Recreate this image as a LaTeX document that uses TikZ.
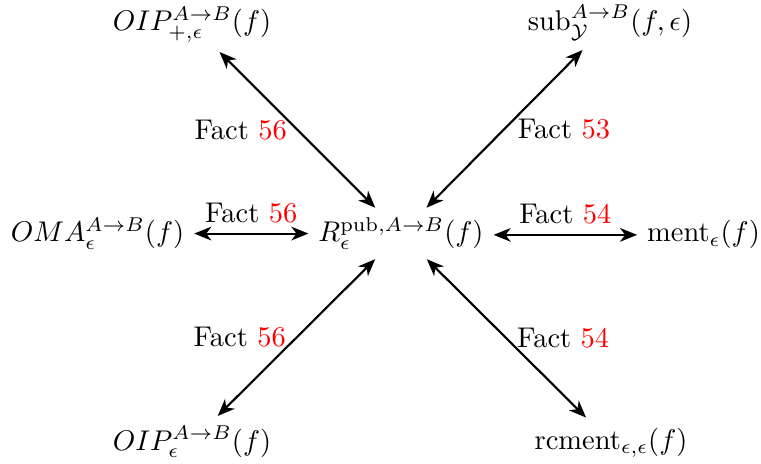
\documentclass[tikz,border=0pt]{standalone}
\usepackage{amsmath,amssymb}
\usetikzlibrary{arrows.meta}
\begin{document}
\begin{tikzpicture}[x=0.3509pt,y=-0.3509pt,
  obj/.style={anchor=base,inner sep=3.33pt},
  conn/.style={{Stealth[length=6pt,width=4.8pt,inset=1.8pt]}-{Stealth[length=6pt,width=4.8pt,inset=1.8pt]},line width=0.75pt},
  lab/.style={inner sep=3.33pt}]
\useasboundingbox (0,0) rectangle (761,464);
\node[obj] (oipp) at (192,31) {$OIP^{A\to B}_{+,\epsilon}(f)$};
\node[obj] (sub) at (610,31) {$\mathrm{sub}^{A\to B}_{\mathcal{Y}}(f,\epsilon)$};
\node[obj] (oma) at (97.5,242) {$OMA^{A\to B}_{\epsilon}(f)$};
\node[obj] (r) at (401,242) {$R^{\mathrm{pub},A\to B}_{\epsilon}(f)$};
\node[obj] (ment) at (703.5,242) {$\mathrm{ment}_{\epsilon}(f)$};
\node[obj] (oip) at (192,450) {$OIP^{A\to B}_{\epsilon}(f)$};
\node[obj] (rc) at (611,449) {$\mathrm{rcment}_{\epsilon,\epsilon}(f)$};
\draw[conn] (oipp) -- node[lab,midway,left] {Fact \textcolor{red}{56}} (r);
\draw[conn] (sub) -- node[lab,midway,right,xshift=1pt] {Fact \textcolor{red}{53}} (r);
\draw[conn] (oma.east) -- node[lab,midway,above] {Fact \textcolor{red}{56}} (oma.east -| r.west);
\draw[conn] (ment.west -| r.east) -- node[lab,midway,above] {Fact \textcolor{red}{54}} (ment.west);
\draw[conn] (oip) -- node[lab,midway,left] {Fact \textcolor{red}{56}} (r);
\draw[conn] (rc) -- node[lab,midway,right] {Fact \textcolor{red}{54}} (r);
\end{tikzpicture}
\end{document}
